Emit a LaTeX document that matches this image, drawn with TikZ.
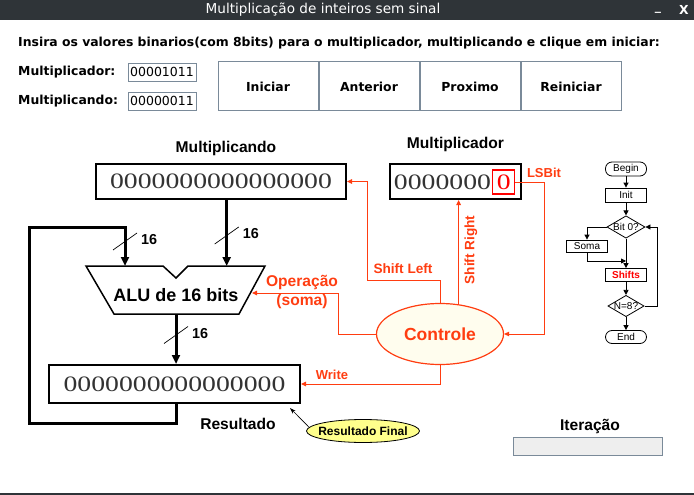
\documentclass[tikz,border=0pt]{standalone}
\usepackage{fontspec}
\setmainfont{Liberation Serif}
\setsansfont{Liberation Sans}
\newfontfamily\uifont{DejaVu Sans}
\newfontfamily\regfont[FakeStretch=1.26]{Liberation Serif}
\usetikzlibrary{positioning,shapes.geometric,arrows.meta}
\definecolor{barbg}{RGB}{47,52,56}
\definecolor{uiedge}{RGB}{122,138,153}
\definecolor{fieldgray}{RGB}{238,238,238}
\definecolor{ctlred}{RGB}{255,61,17}
\definecolor{ctlfill}{RGB}{255,253,238}
\definecolor{rfill}{RGB}{255,255,140}
\definecolor{digit}{RGB}{51,51,51}

\begin{document}
\begin{tikzpicture}[x=1pt, y=-1pt, >={Triangle[length=5pt,width=4.5pt]}]
        \tikzstyle{every node}=[inner sep=0pt, font=\sffamily\bfseries\fontsize{15.6}{16}\selectfont]
        \tikzstyle{ui}=[font=\uifont\bfseries\fontsize{12.4}{13}\selectfont]
        \tikzstyle{field}=[draw=uiedge, line width=0.8pt, minimum width=68, minimum height=18, font=\uifont\fontsize{12.5}{13}\selectfont]
        \tikzstyle{btn}=[draw=uiedge, line width=1pt, minimum width=100, minimum height=49, ui]
        \tikzstyle{reg}=[draw, line width=2pt, text=digit, font=\regfont\fontsize{22}{22}\selectfont]
        \tikzstyle{bus}=[line width=3pt, -{Triangle[length=9pt,width=8pt]}]
        \tikzstyle{ctl}=[draw=ctlred, line width=1pt, ->]
        \tikzstyle{ctltext}=[text=ctlred, font=\sffamily\bfseries\fontsize{13.6}{14}\selectfont]
        \tikzstyle{fl}=[draw, line width=0.8pt, minimum width=41, font=\sffamily\fontsize{10}{10}\selectfont]
        \tikzstyle{farr}=[line width=0.8pt, -{Triangle[length=5pt,width=5pt]}]
        \useasboundingbox (0,0) rectangle (694,495);
        \fill[barbg] (0,0) rectangle (694,20);
        \fill[barbg] (0,493) rectangle (694,495);
        \node[text=white, font=\uifont\fontsize{13.6}{14}\selectfont] (title) at (323,10) {Multiplicação de inteiros sem sinal};
        \node[ui, text=white, anchor=base] (bmin) at (658,11) {\_};
        \node[ui, text=white] (bclose) at (684,10) {X};
        \node[ui, anchor=west] (intro) at (18,43) {Insira os valores binarios(com 8bits) para o multiplicador, multiplicando e clique em iniciar:};
        \node[ui, anchor=west] (lmplier) at (18,72) {Multiplicador:};
        \node[ui, anchor=west] (lmcand) at (18,101) {Multiplicando:};
        \node[field] (inmplier) at (162,72) {00001011};
        \node[field] (inmcand) at (162,101) {00000011};
        \node[btn] (bini) at (268,86.5) {Iniciar};
        \node[btn, right=0pt of bini] (bant) {Anterior};
        \node[btn, right=0pt of bant] (bpro) {Proximo};
        \node[btn, right=0pt of bpro] (brei) {Reiniciar};

        \node[reg, minimum width=250, minimum height=35] (mcand) at (221,181.5) {0000000000000000};
        \node (tmcand) at (226,148) {Multiplicando};
        \node[reg, minimum width=131, minimum height=35] (mplier) at (455.5,181.5) {};
        \node[above=11pt of mplier] (tmplier) {Multiplicador};
        \node[text=digit, font=\regfont\fontsize{22}{22}\selectfont] (mpdig) at (442.5,182) {0000000};
        \node[draw=red, line width=1.2pt, text=red, font=\regfont\fontsize{22}{22}\selectfont, minimum width=22, minimum height=24, right=1pt of mpdig] (lsb) {0};
        \node[reg, minimum width=251, minimum height=38] (result) at (174.5,384) {0000000000000000};
        \node (tres) at (238,424) {Resultado};

        \draw[line width=1.5pt, fill=white] (86,266) -- (163,266) -- (176,278) -- (188,266) -- (265,266) -- (239,314) -- (114,314) -- cycle;
        \node[font=\sffamily\bfseries\fontsize{18}{18}\selectfont] (alu) at (176,295) {ALU de 16 bits};
        \coordinate (aluinl) at (125,266);
        \coordinate (aluinr) at (226.7,266);
        \coordinate (aluop) at (252,293);
        \coordinate (aluout) at (176,314);
        \coordinate (loopbl) at (29,423);
        \coordinate (looptl) at (29,227);
        \draw[bus] (mcand.south -| aluinr) -- (aluinr);
        \draw[bus] (aluout) -- (result.north -| aluout);
        \draw[bus] (result.south -| aluout) |- (loopbl) -- (looptl) -| (aluinl);
        \foreach \x/\y/\n in {125/241.5/l, 226.7/235.5/r, 176/335/o} {
            \draw[line width=0.7pt] (\x-12,\y+8.5) -- (\x+12,\y-8.5);
            \node[anchor=west, font=\sffamily\bfseries\fontsize{14.4}{15}\selectfont] (w\n) at (\x+16,\y-1.5) {16};
        }

        \node[ellipse, draw=ctlred, line width=1.2pt, fill=ctlfill, minimum width=127, minimum height=61, text=ctlred, font=\sffamily\bfseries\fontsize{17.5}{18}\selectfont] (ctrl) at (440,334) {Controle};
        \coordinate (slbend) at (367,280);
        \coordinate (opbend) at (338,293);
        \draw[ctl] (ctrl.north) |- (slbend) |- (mcand.east);
        \draw[ctl] (ctrl.58) -- (ctrl.58 |- mplier.south);
        \draw[ctl] (lsb.east) -- ++(29,0) |- (ctrl.east);
        \draw[ctl] (ctrl.west) -| (opbend) -- (aluop);
        \draw[ctl] (ctrl.south) |- (result.east);
        \node[ctltext] (tsl) at (403,269) {Shift Left};
        \node[ctltext, rotate=90] (tsr) at (471,250) {Shift Right};
        \node[ctltext, font=\sffamily\bfseries\fontsize{13}{14}\selectfont] (tlsb) at (544,173) {LSBit};
        \node[ctltext, font=\sffamily\bfseries\fontsize{15.6}{16}\selectfont, align=center] (top) at (302,292) {Operação\\[3pt](soma)};
        \node[ctltext, font=\sffamily\bfseries\fontsize{13}{14}\selectfont] (twr) at (332,375) {Write};

        \node[ellipse, draw, line width=0.8pt, fill=rfill, inner xsep=-17pt, minimum width=113, minimum height=23, font=\sffamily\bfseries\fontsize{12}{12}\selectfont] (rfinal) at (363,431) {Resultado Final};
        \coordinate (rftip) at (290,408);
        \draw[line width=0.6pt, -{Stealth[length=6pt,width=4pt]}] (rfinal.176) -- (rftip);

        \node (titer) at (590,426) {Iteração};
        \node[field, minimum width=149, fill=fieldgray] (iter) at (587.5,446) {};

        \node[fl, rounded corners=6.5pt, minimum height=14] (fbegin) at (626,169) {Begin};
        \node[fl, minimum height=14] (finit) at (626,195) {Init};
        \node[fl, diamond, aspect=1.7, minimum width=0pt] (fbit) at (626,227) {Bit 0?};
        \node[fl, minimum height=12] (fsoma) at (587,246) {Soma};
        \node[fl, minimum height=13, text=red, font=\sffamily\bfseries\fontsize{10}{10}\selectfont] (fshift) at (626,275) {Shifts};
        \node[fl, diamond, aspect=1.7, minimum width=0pt] (fn8) at (626,306) {N=8?};
        \node[fl, rounded corners=6.5pt, minimum height=13] (fend) at (626,337) {End};
        \coordinate (fmerge) at (626,261);
        \draw[farr] (fbegin) -- (finit);
        \draw[farr] (finit) -- (fbit);
        \draw[farr] (fbit.west) -| (fsoma.north);
        \draw[farr] (fsoma.south) |- (fmerge);
        \draw[farr] (fbit.south) -- (fshift.north);
        \draw[farr] (fshift) -- (fn8);
        \draw[farr] (fn8) -- (fend);
        \draw[farr] (fn8.east) -- ++(13,0) |- (fbit.east);
    \end{tikzpicture}
\end{document}
